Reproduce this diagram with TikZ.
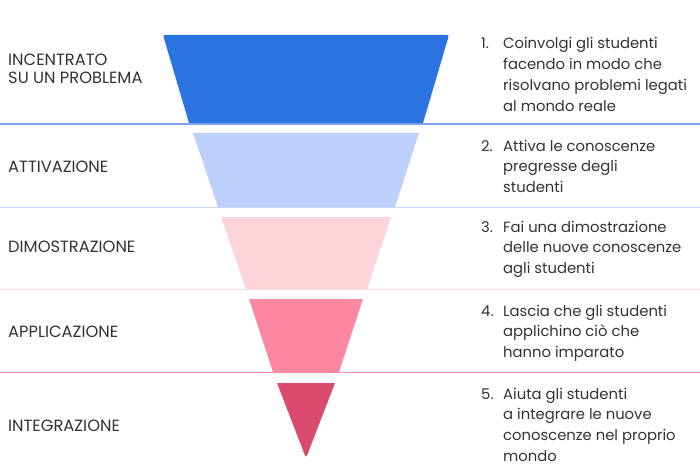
\documentclass[tikz,border=0pt]{standalone}
\usepackage{fontspec}
\setmainfont{Poppins}
\usetikzlibrary{positioning}
\definecolor{stepA}{HTML}{2A73E0}
\definecolor{stepB}{HTML}{BDD0FC}
\definecolor{stepC}{HTML}{FDD4DA}
\definecolor{stepD}{HTML}{FD86A0}
\definecolor{stepE}{HTML}{DB4B6D}
\definecolor{ruleA}{HTML}{7BA5EC}
\definecolor{ruleB}{HTML}{C4D6FA}
\definecolor{ruleC}{HTML}{FDDCE2}
\definecolor{ruleD}{HTML}{FF869F}
\definecolor{ink}{HTML}{333333}
% lines stacked from the first baseline down
\newcommand{\lines}[1]{\begin{tabular}[t]{@{}l@{}}#1\end{tabular}}
\begin{document}
\begin{tikzpicture}[x=1pt, y=-1pt,% pixel grid, y going down
stage/.style = {anchor=base west, inner sep=0pt, text=ink,
                font=\fontsize{16.3}{18}\selectfont},
num/.style   = {anchor=base west, inner sep=0pt, text=ink,
                font=\fontsize{14.8}{20.7}\selectfont},
desc/.style  = {anchor=base west, inner sep=0pt, text=ink,
                font=\fontsize{14.8}{20.7}\selectfont},
sep/.style   = {line width=1.2pt}
                ]
    \useasboundingbox (0,0) rectangle (700,473);

    % funnel
    \fill[stepA] (189,123) -- (164.1,38.8) .. controls (163,35) .. (167,35)
                 -- (445,35) .. controls (449,35) .. (447.9,38.8)
                 -- (423,123) -- cycle;
    \fill[stepB] (218,207) -- (193,133) -- (419,133) -- (395,207) -- cycle;
    \fill[stepC] (246,289) -- (221,217) -- (391,217) -- (367,289) -- cycle;
    \fill[stepD] (273,372) -- (249,299) -- (363,299) -- (339,372) -- cycle;
    \fill[stepE] (277,383) -- (335,383) -- (309.3,449.5)
                 .. controls (306,459) .. (302.7,449.5) -- cycle;

    % separators
    \coordinate (s1l) at (0,124);   \coordinate (s1r) at (700,124);
    \coordinate (s2l) at (0,207.5); \coordinate (s2r) at (700,207.5);
    \coordinate (s3l) at (0,289.5); \coordinate (s3r) at (700,289.5);
    \coordinate (s4l) at (0,372.5); \coordinate (s4r) at (700,372.5);
    \draw[sep, ruleA] (s1l) -- (s1r);
    \draw[sep, ruleB] (s2l) -- (s2r);
    \draw[sep, ruleC] (s3l) -- (s3r);
    \draw[sep, ruleD] (s4l) -- (s4r);

    % stage names
    \node[stage] (prob)  at (8,66)  {\lines{INCENTRATO\\SU UN PROBLEMA}};
    \node[stage] (attiv) at (8,172) {ATTIVAZIONE};
    \node[stage] (dimo)  at (8,252) {DIMOSTRAZIONE};
    \node[stage] (appl)  at (8,337) {APPLICAZIONE};
    \node[stage] (integ) at (8,431) {INTEGRAZIONE};

    % descriptions
    \node[num]  (n1) at (481,49) {1.};
    \node[desc] (d1) at (503,49) {\lines{Coinvolgi gli studenti\\facendo in modo che\\risolvano problemi legati\\al mondo reale}};
    \node[num]  (n2) at (481,151) {2.};
    \node[desc] (d2) at (503,151) {\lines{Attiva le conoscenze\\pregresse degli\\studenti}};
    \node[num]  (n3) at (481,232) {3.};
    \node[desc] (d3) at (503,232) {\lines{Fai una dimostrazione\\delle nuove conoscenze\\agli studenti}};
    \node[num]  (n4) at (481,316) {4.};
    \node[desc] (d4) at (503,316) {\lines{Lascia che gli studenti\\applichino ciò che\\hanno imparato}};
    \node[num]  (n5) at (481,399) {5.};
    \node[desc] (d5) at (503,399) {\lines{Aiuta gli studenti\\a integrare le nuove\\conoscenze nel proprio\\mondo}};
\end{tikzpicture}
\end{document}
